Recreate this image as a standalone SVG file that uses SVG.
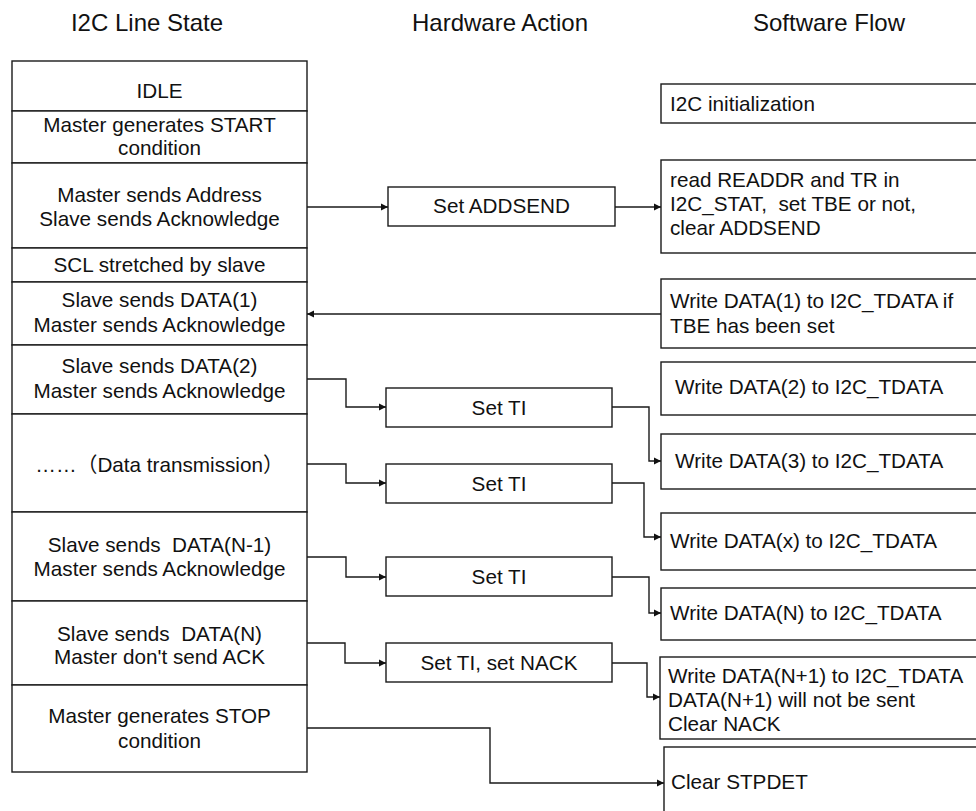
<svg xmlns="http://www.w3.org/2000/svg" width="976" height="811" viewBox="0 0 976 811">
<style>
text{font-family:"Liberation Sans","Noto Sans CJK SC",Arial,sans-serif;fill:#111;white-space:pre}
.h{font-size:24px;text-anchor:middle}
.t{font-size:20.7px}
.c{text-anchor:middle}
.box{fill:#fff;stroke:#1a1a1a;stroke-width:1.4}
.ln{fill:none;stroke:#1a1a1a;stroke-width:1.4}
</style>
<defs>
<marker id="ah" markerUnits="userSpaceOnUse" markerWidth="8" markerHeight="8" refX="7" refY="4" orient="auto">
<path d="M0,0.5 L7,4 L0,7.5 Z" fill="#111"/>
</marker>
</defs>
<rect width="976" height="811" fill="#fff"/>
<g id="headers">
<text class="h" x="147" y="31">I2C Line State</text>
<text class="h" x="500" y="31">Hardware Action</text>
<text class="h" x="829" y="31">Software Flow</text>
</g>
<g id="s-idle"><rect class="box" x="12" y="61" width="295" height="50"/><text class="t c" x="159.5" y="98">IDLE</text></g>
<g id="s-start"><rect class="box" x="12" y="111" width="295" height="52"/><text class="t c" x="159.5" y="132">Master generates START</text><text class="t c" x="159.5" y="155">condition</text></g>
<g id="s-addr"><rect class="box" x="12" y="163" width="295" height="85"/><text class="t c" x="159.5" y="202">Master sends Address</text><text class="t c" x="159.5" y="226">Slave sends Acknowledge</text></g>
<g id="s-scl"><rect class="box" x="12" y="248" width="295" height="34"/><text class="t c" x="159.5" y="272">SCL stretched by slave</text></g>
<g id="s-d1"><rect class="box" x="12" y="282" width="295" height="63"/><text class="t c" x="159.5" y="307">Slave sends DATA(1)</text><text class="t c" x="159.5" y="332">Master sends Acknowledge</text></g>
<g id="s-d2"><rect class="box" x="12" y="345" width="295" height="69"/><text class="t c" x="159.5" y="373">Slave sends DATA(2)</text><text class="t c" x="159.5" y="398">Master sends Acknowledge</text></g>
<g id="s-dt"><rect class="box" x="12" y="414" width="295" height="98"/><text class="t c" x="159.5" y="472">……（Data transmission）</text></g>
<g id="s-dn1"><rect class="box" x="12" y="512" width="295" height="89"/><text class="t c" x="159.5" y="552">Slave sends  DATA(N-1)</text><text class="t c" x="159.5" y="576">Master sends Acknowledge</text></g>
<g id="s-dn"><rect class="box" x="12" y="601" width="295" height="84"/><text class="t c" x="159.5" y="641">Slave sends  DATA(N)</text><text class="t c" x="159.5" y="664">Master don't send ACK</text></g>
<g id="s-stop"><rect class="box" x="12" y="685" width="295" height="87"/><text class="t c" x="159.5" y="723">Master generates STOP</text><text class="t c" x="159.5" y="748">condition</text></g>
<g id="h-addsend"><rect class="box" x="388" y="187" width="227" height="39"/><text class="t c" x="501.5" y="213">Set ADDSEND</text></g>
<g id="h-ti1"><rect class="box" x="386" y="388" width="226" height="39"/><text class="t c" x="499" y="415">Set TI</text></g>
<g id="h-ti2"><rect class="box" x="386" y="464" width="226" height="39"/><text class="t c" x="499" y="491">Set TI</text></g>
<g id="h-ti3"><rect class="box" x="386" y="557" width="226" height="39"/><text class="t c" x="499" y="584">Set TI</text></g>
<g id="h-nack"><rect class="box" x="386" y="643" width="226" height="39"/><text class="t c" x="499" y="670">Set TI, set NACK</text></g>
<g id="w-init"><rect class="box" x="661" y="84" width="340" height="39"/><text class="t" x="670" y="111">I2C initialization</text></g>
<g id="w-read"><rect class="box" x="661" y="160" width="340" height="93"/><text class="t" x="670" y="187">read READDR and TR in</text><text class="t" x="670" y="211">I2C_STAT,  set TBE or not,</text><text class="t" x="670" y="235">clear ADDSEND</text></g>
<g id="w-d1"><rect class="box" x="661" y="279" width="340" height="69"/><text class="t" x="670" y="308">Write DATA(1) to I2C_TDATA if</text><text class="t" x="670" y="333">TBE has been set</text></g>
<g id="w-d2"><rect class="box" x="661" y="362" width="340" height="53"/><text class="t" x="675" y="394">Write DATA(2) to I2C_TDATA</text></g>
<g id="w-d3"><rect class="box" x="661" y="434" width="340" height="55"/><text class="t" x="675" y="468">Write DATA(3) to I2C_TDATA</text></g>
<g id="w-dx"><rect class="box" x="661" y="513" width="340" height="57"/><text class="t" x="670" y="548">Write DATA(x) to I2C_TDATA</text></g>
<g id="w-dn"><rect class="box" x="661" y="588" width="340" height="52"/><text class="t" x="670" y="620">Write DATA(N) to I2C_TDATA</text></g>
<g id="w-dn1"><rect class="box" x="660" y="657" width="340" height="82"/><text class="t" x="668" y="683">Write DATA(N+1) to I2C_TDATA</text><text class="t" x="668" y="707">DATA(N+1) will not be sent</text><text class="t" x="668" y="731">Clear NACK</text></g>
<g id="w-stp"><rect class="box" x="664" y="747" width="340" height="90"/><text class="t" x="671" y="789">Clear STPDET</text></g>
<g id="connectors">
<path class="ln" d="M307,207 H388" marker-end="url(#ah)"/>
<path class="ln" d="M615,207 H661" marker-end="url(#ah)"/>
<path class="ln" d="M661,314 H307" marker-end="url(#ah)"/>
<path class="ln" d="M307,379 H346 V407 H386" marker-end="url(#ah)"/>
<path class="ln" d="M612,407 H649 V461 H661" marker-end="url(#ah)"/>
<path class="ln" d="M307,464 H346 V483 H386" marker-end="url(#ah)"/>
<path class="ln" d="M612,483 H644 V537 H661" marker-end="url(#ah)"/>
<path class="ln" d="M307,557 H346 V577 H386" marker-end="url(#ah)"/>
<path class="ln" d="M612,577 H649 V613 H661" marker-end="url(#ah)"/>
<path class="ln" d="M307,643 H345 V663 H386" marker-end="url(#ah)"/>
<path class="ln" d="M612,663 H647 V697 H660" marker-end="url(#ah)"/>
<path class="ln" d="M307,728 H490 V783 H664" marker-end="url(#ah)"/>
</g>
</svg>
